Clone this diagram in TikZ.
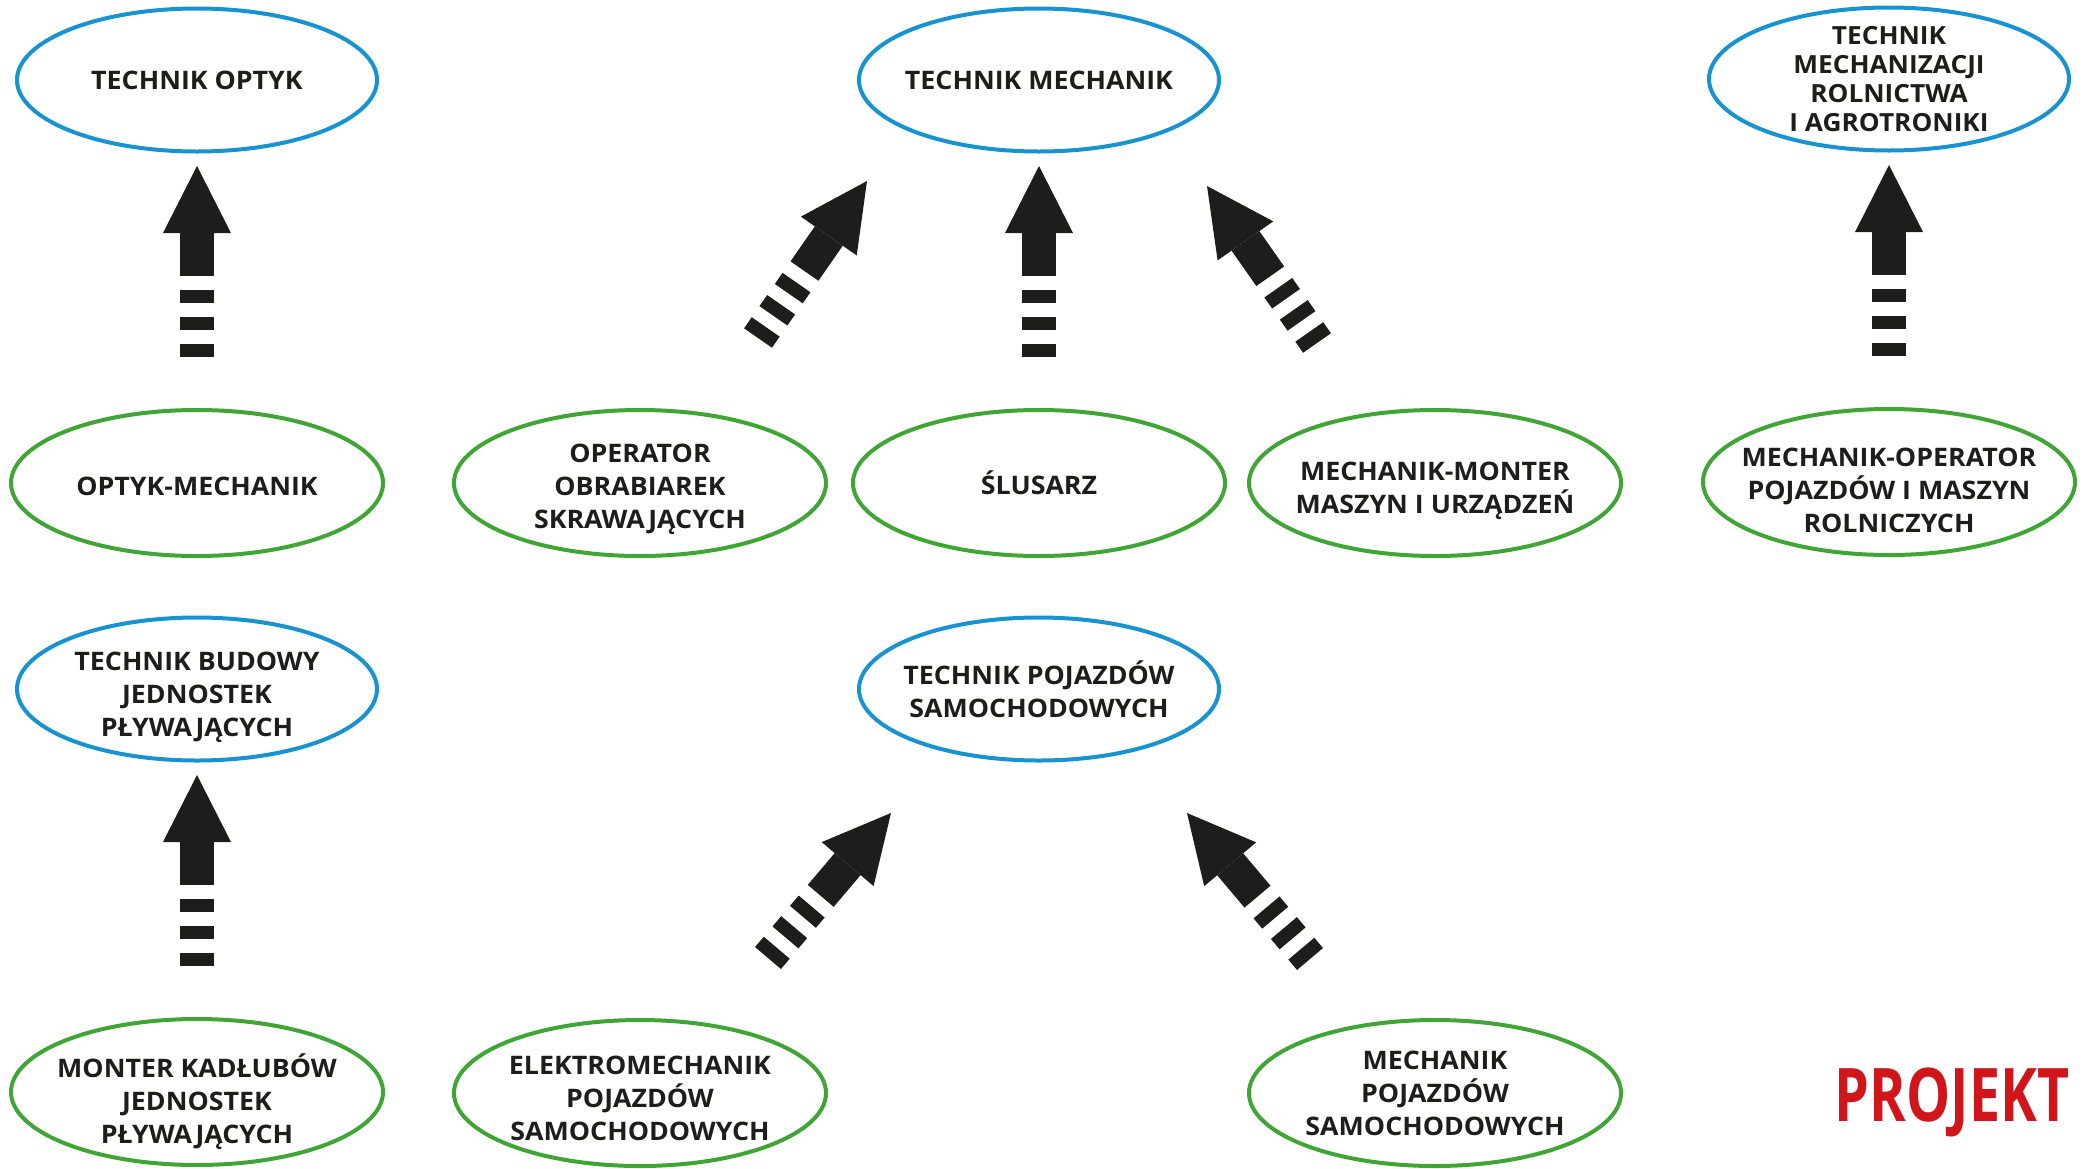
\documentclass[tikz,border=0pt]{standalone}
\usepackage{fontspec}
\setmainfont{Open Sans}[FakeStretch=1.05]
\usetikzlibrary{shapes.geometric,arrows.meta,positioning}
\definecolor{tblue}{HTML}{1793D1}
\definecolor{tgreen}{HTML}{3FA535}
\definecolor{ink}{HTML}{1D1D1B}
\definecolor{tred}{HTML}{D0161B}
% pushes the first text line down inside its ellipse
\newcommand\topgap[1]{\rule{0pt}{#1pt}}

\begin{document}
\begin{tikzpicture}[x=1pt, y=-1pt, node distance=403pt,
                    every node/.style={font=\fontsize{25.5}{33}\selectfont\bfseries, text=ink, align=center},
                    blue node/.style={ellipse,draw=tblue,line width=4pt,minimum width=360pt,minimum height=143pt,inner xsep=-80pt,inner ysep=-40pt},
                    green node/.style={ellipse,draw=tgreen,line width=4pt,minimum width=372pt,minimum height=146pt,inner xsep=-80pt,inner ysep=-40pt},
                    fat arrow/.style={draw=ink,line width=34pt,
                      dash pattern=on 13.5pt off 13.5pt on 13.5pt off 13.5pt on 13.5pt off 14pt on 400pt,
                      -{Triangle[width=68pt,length=67pt,line width=0pt]}}]
  \useasboundingbox (0,0) rectangle (2083,1168);

  % technicy
  \node[blue node] (toptyk) at (197,80) {TECHNIK OPTYK};
  \node[blue node] (tmech) at (1039,80) {TECHNIK MECHANIK};
  \node[blue node, font=\fontsize{25}{29}\selectfont\bfseries] (tagro) at (1889,79) {TECHNIK\\MECHANIZACJI\\ROLNICTWA\\I AGROTRONIKI};
  \node[blue node] (tbudowy) at (197,689) {\topgap{36}TECHNIK BUDOWY\\JEDNOSTEK\\PŁYWAJĄCYCH};
  \node[blue node] (tpoj) at (1039,689) {TECHNIK POJAZDÓW\\SAMOCHODOWYCH};

  % zawody
  \node[green node] (optmech) [below of=toptyk] {\topgap{26}OPTYK-MECHANIK};
  \node[green node] (operator) at (640,483) {\topgap{31}OPERATOR\\OBRABIAREK\\SKRAWAJĄCYCH};
  \node[green node] (slusarz) [below of=tmech] {ŚLUSARZ};
  \node[green node] (monter) at (1435,483) {\topgap{34}MECHANIK-MONTER\\MASZYN I URZĄDZEŃ};
  \node[green node] (mechop) [below of=tagro] {\topgap{36}MECHANIK-OPERATOR\\POJAZDÓW I MASZYN\\ROLNICZYCH};
  \node[green node] (kadlub) [below of=tbudowy] {\topgap{44}MONTER KADŁUBÓW\\JEDNOSTEK\\PŁYWAJĄCYCH};
  \node[green node] (elektro) at (640,1093) {\topgap{29}ELEKTROMECHANIK\\POJAZDÓW\\SAMOCHODOWYCH};
  \node[green node] (mpoj) at (1435,1093) {MECHANIK\\POJAZDÓW\\SAMOCHODOWYCH};

  \node[inner sep=0pt, text=tred, font=\fontsize{74}{74}\selectfont\bfseries, xscale=0.715, transform shape] (projekt) at (1952,1102) {PROJEKT};

  % strzalki
  \coordinate (a1) at (758,338);  \coordinate (b1) at (867,181);
  \coordinate (a2) at (1317,343); \coordinate (b2) at (1207,186);
  \coordinate (a3) at (768,958);  \coordinate (b3) at (891,813);
  \coordinate (a4) at (1310,959); \coordinate (b4) at (1187,813);

  \path[every edge/.style={fat arrow, shorten <=51pt, shorten >=12.5pt}]
    (optmech) edge (toptyk)
    (slusarz) edge (tmech)
    (mechop) edge (tagro)
    (kadlub) edge (tbudowy);
  \path[every edge/.style={fat arrow}]
    (a1) edge (b1)
    (a2) edge (b2)
    (a3) edge (b3)
    (a4) edge (b4);
\end{tikzpicture}
\end{document}
